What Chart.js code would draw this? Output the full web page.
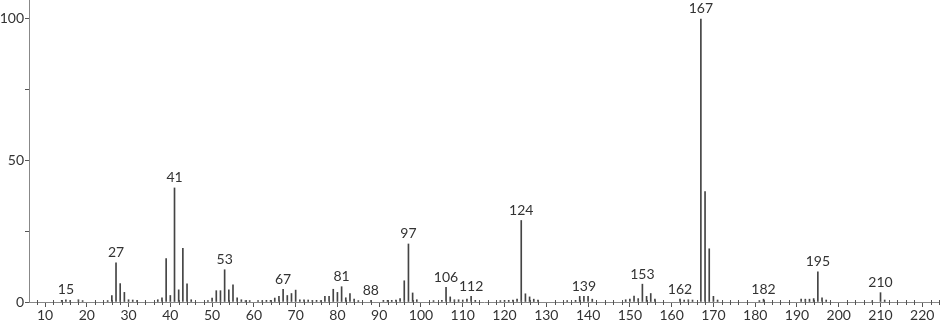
<!DOCTYPE html>
<html><head><meta charset="utf-8">
<script src="https://cdn.jsdelivr.net/npm/chart.js@4.4.0/dist/chart.umd.min.js"></script>
<style>html,body{margin:0;padding:0;background:#fff;overflow:hidden}</style>
</head><body>
<canvas id="c" width="940" height="324"></canvas>
<script>
const mz = [14,15,16,18,19,25,26,27,28,29,30,31,32,37,38,39,40,41,42,43,44,45,49,50,51,52,53,54,55,56,57,58,59,61,62,63,64,65,66,67,68,69,70,71,72,73,74,75,76,77,78,79,80,81,82,83,84,85,88,91,92,93,94,95,96,97,98,99,103,105,106,107,108,109,110,111,112,113,119,120,121,122,123,124,125,126,127,128,135,137,138,139,140,141,149,150,151,152,153,154,155,156,162,163,164,165,167,168,169,170,171,181,182,191,192,193,194,195,196,197,208,210,211];
const intensity = [0.6,0.8,0.5,0.8,0.5,0.5,2.3,13.8,6.5,3.4,0.8,0.7,0.5,0.8,1.5,15.3,2.3,40.3,4.3,19.0,6.4,0.8,0.5,1.4,4.0,4.0,11.4,4.3,6.1,1.5,0.8,0.5,0.5,0.5,0.5,0.6,0.6,1.4,2.0,4.5,2.3,3.0,4.2,0.8,0.8,0.7,0.6,0.6,0.5,2.0,2.0,4.5,3.4,5.4,1.5,3.0,1.0,0.5,0.5,0.6,0.6,0.6,0.7,1.2,7.5,20.5,3.2,0.8,0.5,0.6,5.2,1.8,0.8,0.8,0.7,1.0,2.0,0.6,0.5,0.6,0.6,0.7,1.0,28.8,2.9,1.8,1.0,0.7,0.5,0.6,2.0,2.0,2.0,1.0,0.8,1.0,2.1,1.2,6.3,2.0,3.0,1.0,1.0,0.7,0.8,0.7,100,39.0,18.8,2.0,0.7,0.5,1.0,1.0,1.0,1.0,1.2,10.7,1.5,0.7,0.4,3.3,0.7];
const labeledMz = [15,27,41,53,67,81,88,97,106,112,124,139,153,162,167,182,195,210];
const xTickValues = [10,20,30,40,50,60,70,80,90,100,110,120,130,140,150,160,170,180,190,200,210,220];
const yTickValues = [0,25,50,75,100];
const yTickLabels = {0:'0',50:'50',100:'100'};

const FONT = {family:'Lato, "DejaVu Sans", sans-serif', size:14};
const TEXT = '#333';

const annot = {
  id:'annot',
  afterDatasetsDraw(chart){
    const ctx = chart.ctx, xs = chart.scales.x, ys = chart.scales.y;
    ctx.save();
    ctx.strokeStyle = '#555'; ctx.lineWidth = 1;
    for (let v = 8; v <= 224; v += 2) {
      if (v % 10 === 0) continue;
      const px = Math.round(xs.getPixelForValue(v)) + 0.5;
      ctx.beginPath(); ctx.moveTo(px, ys.bottom - 2); ctx.lineTo(px, ys.bottom + 3); ctx.stroke();
    }
    ctx.fillStyle = TEXT;
    ctx.font = FONT.size + 'px ' + FONT.family;
    ctx.textAlign = 'center'; ctx.textBaseline = 'bottom';
    labeledMz.forEach(m => {
      const i = mz.indexOf(m);
      const px = xs.getPixelForValue(m), py = ys.getPixelForValue(intensity[i]);
      ctx.fillText(String(m), px, py - 3);
    });
    ctx.restore();
  }
};

new Chart(document.getElementById('c'), {
  type:'bar',
  data:{datasets:[{
    data: mz.map((m,i)=>({x:m, y:intensity[i]})),
    backgroundColor:'#444', borderWidth:0, barThickness:1
  }]},
  options:{
    responsive:false, animation:false, devicePixelRatio:1,
    layout:{padding:{top:0,right:1,left:0,bottom:0}},
    plugins:{legend:{display:false}, tooltip:{enabled:false}},
    scales:{
      x:{type:'linear', min:6.17, max:224, offset:false,
        grid:{drawOnChartArea:false, drawTicks:true, tickLength:5, color:'#555', offset:false},
        border:{color:'#888', width:1},
        ticks:{font:FONT, color:TEXT, padding:0, maxRotation:0, autoSkip:false},
        afterBuildTicks:s=>{ s.ticks = xTickValues.map(v=>({value:v})); },
        afterFit:s=>{ s.height = 22; s.paddingLeft = 0; s.paddingRight = 0; }
      },
      y:{min:0, max:106.7,
        grid:{drawOnChartArea:false, drawTicks:true, tickLength:4, color:'#555'},
        border:{color:'#888', width:1},
        ticks:{font:FONT, color:TEXT, padding:1, callback:v=>yTickLabels[v] ?? ''},
        afterBuildTicks:s=>{ s.ticks = yTickValues.map(v=>({value:v})); },
        afterFit:s=>{ s.width = 29; s.paddingTop = 0; s.paddingBottom = 0; }
      }
    }
  },
  plugins:[annot]
});
</script>
</body></html>
